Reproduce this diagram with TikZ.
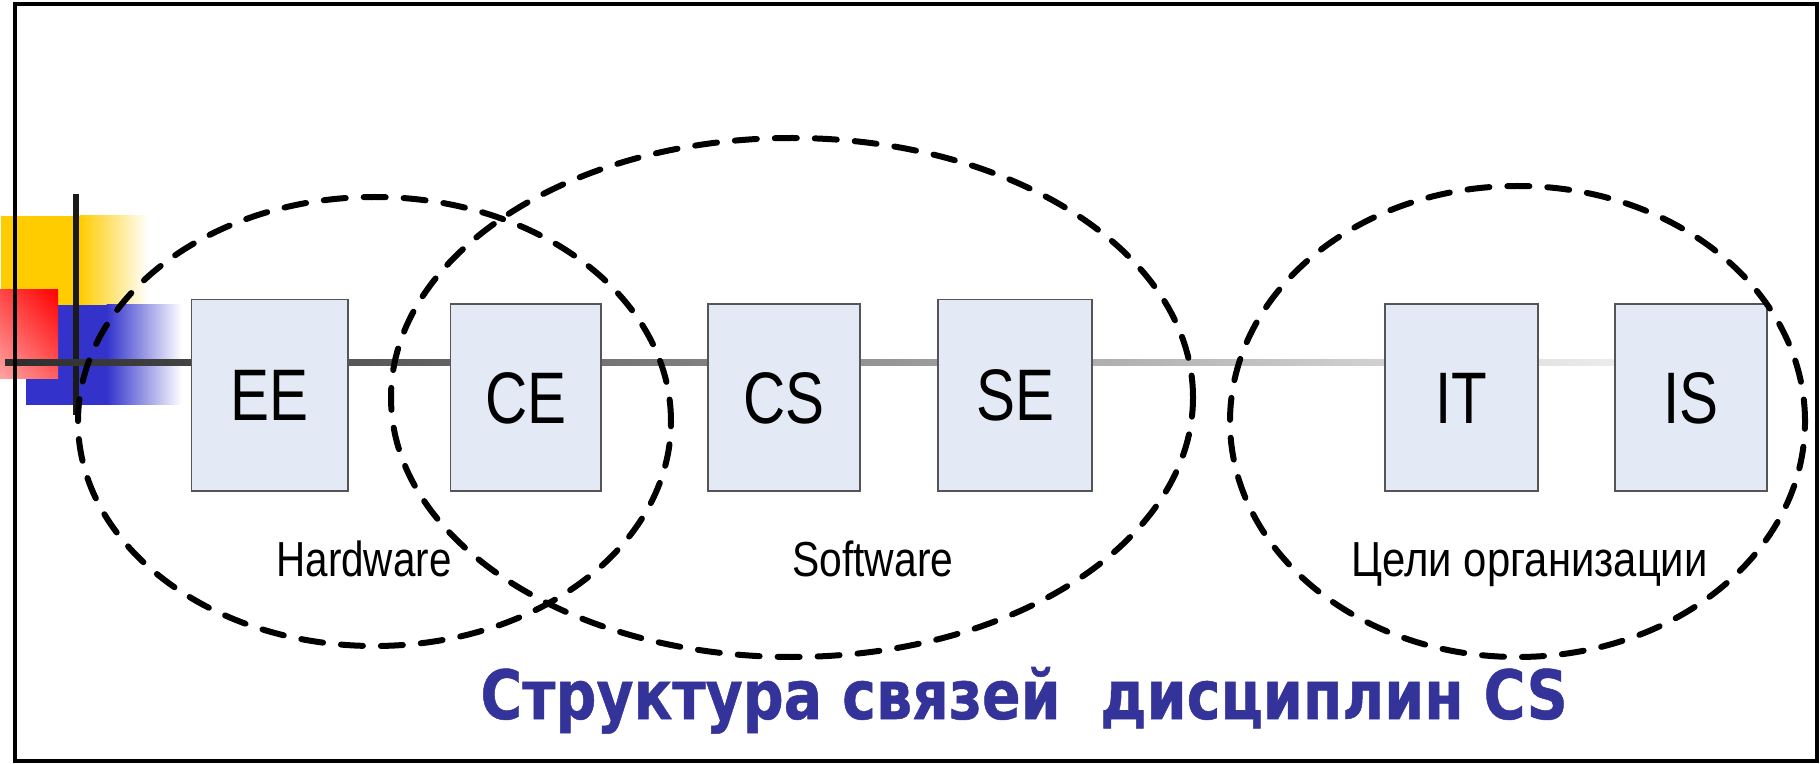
\documentclass[tikz,border=0pt]{standalone}
\usepackage{fontspec}
\setmainfont{Liberation Sans}
\newfontfamily\titlefont{DejaVu Sans}[BoldFeatures={FakeBold=0.8}]
\usetikzlibrary{shapes.geometric,calc,shadings}
\definecolor{boxfill}{RGB}{228,234,245}
\definecolor{boxline}{RGB}{85,85,85}
\definecolor{titleblue}{RGB}{51,51,153}
\definecolor{decoyellow}{RGB}{255,204,0}
\definecolor{decoblue}{RGB}{51,51,204}
\definecolor{decoline}{RGB}{26,26,26}
\definecolor{linedark}{RGB}{45,45,45}
\definecolor{linelight}{RGB}{236,236,236}
\definecolor{redTL}{RGB}{255,70,70}
\definecolor{redTR}{RGB}{255,0,0}
\definecolor{redBL}{RGB}{255,165,165}
\definecolor{redBR}{RGB}{255,95,95}
\pgfdeclarelayer{bg}
\pgfsetlayers{bg,main}
\begin{document}
\begin{tikzpicture}[x=0.5pt,y=-0.5pt,
  discbox/.style={draw=boxline, line width=0.9pt, fill=boxfill, inner sep=0pt,
    text height=25.6pt, text depth=0pt, font=\fontsize{36.5}{40}\selectfont},
  grp/.style={ellipse, draw=black, line width=3pt, dash pattern=on 11pt off 9pt,
    line cap=round, inner sep=0pt},
  grplabel/.style={anchor=base, inner sep=0pt, font=\fontsize{24.6}{28}\selectfont},
]
\useasboundingbox (0,0) rectangle (1820,764);

% discipline boxes
\node[discbox, minimum width=78.35pt, minimum height=95.75pt] (EE) at (269.85,395.25) {\scalebox{0.8}[1]{EE}};
\node[discbox, minimum width=75.45pt, minimum height=93.5pt] (CE) at (525.85,397.5) {\scalebox{0.8}[1]{CE}};
\node[discbox, minimum width=76pt, minimum height=93.5pt] (CS) at (784,397.5) {\scalebox{0.8}[1]{CS}};
\node[discbox, minimum width=77pt, minimum height=95.75pt] (SE) at (1015,395.25) {\scalebox{0.8}[1]{SE}};
\node[discbox, minimum width=76.5pt, minimum height=93.5pt] (IT) at (1461.5,397.5) {\scalebox{0.8}[1]{IT}};
\node[discbox, minimum width=76pt, minimum height=93.5pt] (IS) at (1690.6,397.5) {\scalebox{0.8}[1]{IS}};

\begin{pgfonlayer}{bg}
  % decoration at top left
  \fill[decoyellow] (1,216) rectangle (80,305);
  \shade[left color=decoyellow, right color=white] (79.5,216) rectangle (148,305);
  \fill[decoblue] (26,305) rectangle (107,405);
  \shade[left color=decoblue, right color=white] (106.5,305) rectangle (182,405);
  \shade[upper left=redTL, upper right=redTR, lower left=redBL, lower right=redBR] (0,290) rectangle (58,379);
  \draw[line width=3.25pt, decoline] (76,194) -- (76,415);
  % connecting line
  \coordinate (lstart) at (5,363);
  \shade[left color=linedark, right color=linelight] ($(lstart)+(0,-3)$) rectangle ($(IS.west |- lstart)+(0,3)$);
\end{pgfonlayer}

% groups
\node[grp, minimum width=296.5pt, minimum height=224.5pt] (hwE) at (374.5,421.5) {};
\node[grp, minimum width=401pt, minimum height=259.5pt] (swE) at (792,397.5) {};
\node[grp, minimum width=287.5pt, minimum height=235.5pt] (orgE) at (1517.5,421.5) {};

\node[grplabel] (hwL) at (364,576) {\resizebox{87.5pt}{\height}{Hardware}};
\node[grplabel] (swL) at (872.8,576) {\resizebox{80.5pt}{\height}{Software}};
\node[grplabel] (orgL) at (1529.7,576) {\resizebox{178pt}{\height}{Цели организации}};

% title
\node[anchor=base, inner sep=0pt, text=titleblue, font=\titlefont\bfseries\fontsize{34}{38}\selectfont] (title) at (1024,719)
  {\resizebox{543.5pt}{\height}{Структура связей\ \ дисциплин CS}};

% frame
\draw[line width=2pt] (15,4) rectangle (1817,761);
\end{tikzpicture}
\end{document}
